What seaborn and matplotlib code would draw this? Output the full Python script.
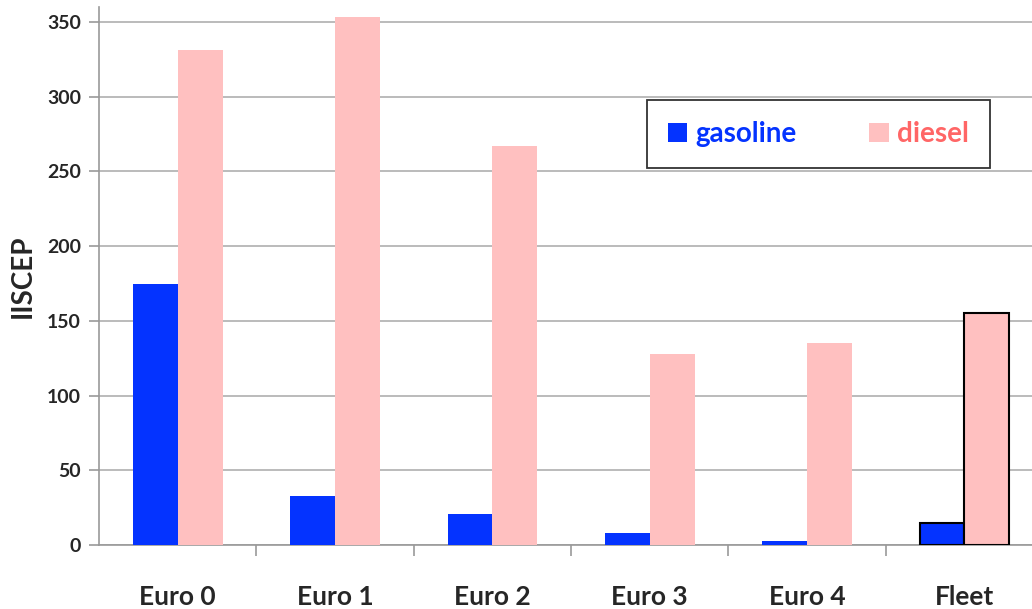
import numpy as np
import pandas as pd
import matplotlib
matplotlib.use("Agg")
import matplotlib.pyplot as plt
import seaborn as sns
from matplotlib.patches import Patch

categories = ["Euro 0", "Euro 1", "Euro 2", "Euro 3", "Euro 4", "Fleet"]
gasoline = [175, 33, 21, 8, 3, 15]
diesel = [331, 353, 267, 128, 135, 155]
y_ticks = [0, 50, 100, 150, 200, 250, 300, 350]

df = pd.DataFrame({
    "category": categories * 2,
    "value": gasoline + diesel,
    "fuel": ["gasoline"] * len(categories) + ["diesel"] * len(categories),
})

sns.set_style("white")
plt.rcParams["font.family"] = ["Lato", "DejaVu Sans"]

blue = "#0433ff"
pink = "#ffc0c0"

fig = plt.figure(figsize=(10.32, 6.09), dpi=100)
ax = fig.add_axes([0.096, 0.105, 0.904, 0.8835])

sns.barplot(data=df, x="category", y="value", hue="fuel",
            palette={"gasoline": blue, "diesel": pink},
            width=0.57, saturation=1, legend=False, ax=ax, zorder=3,
            linewidth=0)

# black outline on the Fleet pair
for bar in ax.patches:
    cx = bar.get_x() + bar.get_width() / 2
    if abs(cx - 5) < 0.5 and bar.get_height() > 0:
        bar.set_edgecolor("black")
        bar.set_linewidth(1.5)

ax.set_ylim(0, 360)
ax.set_xlim(-0.5, 5.43)
ax.set_yticks(y_ticks)
ax.set_yticklabels([str(t) for t in y_ticks], fontsize=14, fontweight="bold")
ax.set_xticks(range(len(categories)))
ax.set_xticklabels(categories, fontsize=19, fontweight="bold")
ax.tick_params(axis="x", length=0, pad=29)
ax.tick_params(axis="y", length=7, color="#999999", width=1.2, left=True, pad=6)
ax.set_xticks(np.arange(0.5, 5, 1), minor=True)
ax.tick_params(axis="x", which="minor", length=8, color="#999999", width=1.2, bottom=True)

ax.grid(axis="y", color="#b5b5b5", linewidth=1.3, zorder=0)
ax.set_axisbelow(True)
for s in ["top", "right"]:
    ax.spines[s].set_visible(False)
ax.spines["left"].set_color("#999999")
ax.spines["bottom"].set_color("#999999")
ax.spines["left"].set_linewidth(1.2)
ax.spines["bottom"].set_linewidth(1.2)

ax.set_xlabel("")
ax.set_ylabel("IISCEP", fontsize=20, fontweight="bold", labelpad=8)

handles = [Patch(facecolor=blue, edgecolor="none"), Patch(facecolor=pink, edgecolor="none")]
leg = ax.legend(handles, ["gasoline", "diesel"], ncol=2, loc="center",
                bbox_to_anchor=(0.585, 0.703, 0.372, 0.122),
                frameon=True, fancybox=False, edgecolor="black",
                prop={"size": 20, "weight": "bold"}, handlelength=0.7,
                handleheight=0.7, handletextpad=0.3, columnspacing=2.6,
                borderpad=0.75, borderaxespad=0)
leg.get_frame().set_linewidth(1.3)
leg.get_texts()[0].set_color(blue)
leg.get_texts()[1].set_color("#ff6666")

fig.savefig("out.png", dpi=100)
